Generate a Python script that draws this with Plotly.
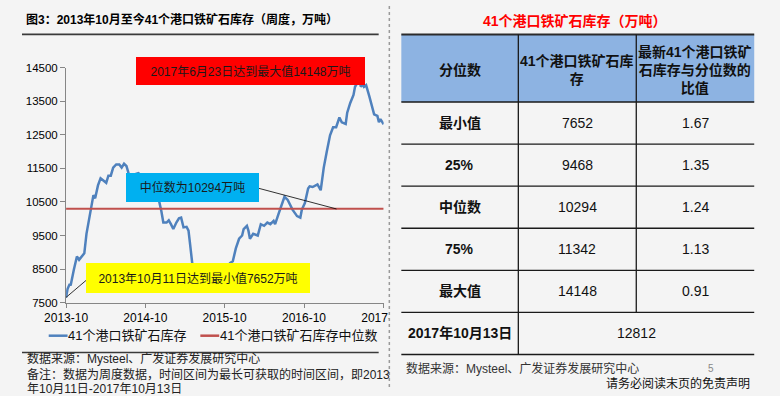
import plotly.graph_objects as go

# ---------------- data ----------------
dates = [
    "2013-10-11", "2013-10-18", "2013-10-28", "2013-11-01", "2013-11-16", "2013-11-30",
    "2013-12-10", "2013-12-22", "2014-01-03", "2014-01-13", "2014-01-23", "2014-02-03",
    "2014-02-14", "2014-02-22", "2014-03-07", "2014-03-19", "2014-04-02", "2014-04-14",
    "2014-04-24", "2014-05-05", "2014-05-16", "2014-05-30", "2014-06-13", "2014-06-24",
    "2014-07-05", "2014-07-16", "2014-07-27", "2014-08-18", "2014-09-09", "2014-10-01",
    "2014-10-19", "2014-11-05", "2014-11-22", "2014-12-14", "2014-12-24", "2015-01-02",
    "2015-01-17", "2015-01-27", "2015-02-06", "2015-02-17", "2015-03-03", "2015-03-15",
    "2015-03-25", "2015-04-05", "2015-04-19", "2015-04-28", "2015-05-05", "2015-05-15",
    "2015-06-06", "2015-06-27", "2015-07-18", "2015-08-09", "2015-08-30", "2015-09-21",
    "2015-10-13", "2015-11-06", "2015-11-18", "2015-12-02", "2015-12-17", "2015-12-31",
    "2016-01-07", "2016-01-22", "2016-01-29", "2016-02-05", "2016-02-20", "2016-03-12",
    "2016-03-26", "2016-04-10", "2016-04-25", "2016-05-09", "2016-05-24", "2016-05-31",
    "2016-06-15", "2016-06-29", "2016-07-13", "2016-07-28", "2016-08-19", "2016-09-09",
    "2016-09-24", "2016-10-01", "2016-10-15", "2016-10-30", "2016-11-06", "2016-11-20",
    "2016-12-12", "2016-12-27", "2017-01-10", "2017-01-24", "2017-02-08", "2017-02-22",
    "2017-03-08", "2017-03-23", "2017-04-03", "2017-04-21", "2017-04-28", "2017-05-12",
    "2017-05-27", "2017-06-03", "2017-06-23", "2017-06-30", "2017-07-07", "2017-07-14",
    "2017-07-24", "2017-08-08", "2017-08-23", "2017-08-30", "2017-09-14", "2017-09-21",
    "2017-09-28", "2017-10-06", "2017-10-13",
]
inventory = [
    7652, 7913, 8057, 8010, 8490, 8876,
    8779, 8876, 8972, 9550, 9934, 10416,
    10704, 10609, 10993, 11204, 11137, 11071,
    11282, 11282, 11522, 11618, 11618, 11522,
    11637, 11570, 11330, 11310, 11359, 11250,
    11100, 10950, 10750, 10511, 10222, 9887,
    9887, 9954, 9838, 9694, 9887, 10011,
    10032, 9743, 9760, 9645, 9261, 8684,
    8350, 8150, 8050, 8100, 8250, 8350,
    8500, 8684, 8733, 9117, 9405, 9501,
    9694, 9790, 9645, 9405, 9550, 9501,
    9838, 9790, 9887, 9838, 9935, 9838,
    10127, 10416, 10655, 10560, 10271, 10078,
    10031, 10271, 10465, 10898, 10964, 10944,
    11022, 10849, 11522, 12003, 12485, 12725,
    12725, 13014, 12870, 12822, 13158, 13447,
    13687, 13928, 14148, 13928, 14004, 13928,
    13976, 13640, 13254, 13110, 13062, 12870,
    12965, 12870, 12812,
]

series_names = ["41个港口铁矿石库存", "41个港口铁矿石库存中位数"]
x_tick_dates = ["2013-10-11", "2014-10-11", "2015-10-11", "2016-10-11", "2017-10-11"]
y_ticks = [7500, 8500, 9500, 10500, 11500, 12500, 13500, 14500]

table_title = "41个港口铁矿石库存（万吨）"
table_header = ["分位数", "41个港口铁矿石库<br>存", "最新41个港口铁矿<br>石库存与分位数的<br>比值"]
table_labels = ["最小值", "25%", "中位数", "75%", "最大值"]
table_inventory = [7652, 9468, 10294, 11342, 14148]
table_ratio = [1.67, 1.35, 1.24, 1.13, 0.91]
latest_label = "2017年10月13日"
latest_value = 12812

median_value = table_inventory[2]

# ---------------- helpers ----------------
W, H = 780, 396
BG = "#f4f4f4"
FONT = "Arial, 'Liberation Sans', 'Noto Sans CJK SC', sans-serif"


def px(x):
    return x / W


def py(y):
    return 1 - y / H


annotations = []
shapes = []


def text(t, x, y, size=12, color="#000", bold=False, xanchor="center", box=None, **kw):
    extra = dict(kw)
    if xanchor in ("left", "right"):
        extra.setdefault("width", box or 420)
        extra.setdefault("align", xanchor)
        extra.setdefault("borderpad", 0)
        extra.setdefault("borderwidth", 0)
    annotations.append(dict(
        text=f"<b>{t}</b>" if bold else t,
        x=px(x), y=py(y), xref="paper", yref="paper",
        xanchor=xanchor, yanchor="middle", showarrow=False,
        font=dict(size=size, color=color, family=FONT), **extra))


def hline(x0, x1, y, color="#1a1a1a", width=1.3, dash=None):
    shapes.append(dict(type="line", xref="paper", yref="paper",
                       x0=px(x0), x1=px(x1), y0=py(y), y1=py(y),
                       line=dict(color=color, width=width, dash=dash)))


def vline(x, y0, y1, color="#1a1a1a", width=1.3, dash=None):
    shapes.append(dict(type="line", xref="paper", yref="paper",
                       x0=px(x), x1=px(x), y0=py(y0), y1=py(y1),
                       line=dict(color=color, width=width, dash=dash)))


def seg(x0, y0, x1, y1, color="#000", width=0.8):
    shapes.append(dict(type="line", xref="paper", yref="paper",
                       x0=px(x0), x1=px(x1), y0=py(y0), y1=py(y1),
                       line=dict(color=color, width=width)))


def rect(x0, y0, x1, y1, fill):
    shapes.append(dict(type="rect", xref="paper", yref="paper",
                       x0=px(x0), x1=px(x1), y0=py(y1), y1=py(y0),
                       fillcolor=fill, line=dict(width=0), layer="above"))


# ---------------- traces ----------------
fig = go.Figure()
fig.add_trace(go.Scatter(x=dates, y=inventory, mode="lines", name=series_names[0],
                         line=dict(color="#4f81bd", width=2.5), showlegend=False))
fig.add_trace(go.Scatter(x=[dates[0], dates[-1]], y=[median_value, median_value], mode="lines",
                         name=series_names[1], line=dict(color="#c0504d", width=2),
                         showlegend=False))

# ---------------- left panel decorations ----------------
text("图3：2013年10月至今41个港口铁矿石库存（周度，万吨）", 4, 13.5, size=12, bold=True, xanchor="left")
hline(0, 378, 29.3, color="#3a3a3a", width=1.6)
hline(0, 378, 357.3, color="#3a3a3a", width=1.6)

# legend
seg(28.3, 340, 48.3, 340, color="#4f81bd", width=2.5)
text(series_names[0], 49, 340, size=13, color="#111", xanchor="left", box=150)
seg(189, 340, 209, 340, color="#c0504d", width=2.5)
text(series_names[1], 210, 340, size=13, color="#111", xanchor="left", box=170)

# sources
text("数据来源：Mysteel、广发证券发展研究中心", 5, 363.5, size=12, color="#222", xanchor="left")
text("备注：数据为周度数据，时间区间为最长可获取的时间区间，即2013", 5, 379.5, size=12, color="#222", xanchor="left")
text("年10月11日-2017年10月13日", 5, 395, size=12, color="#222", xanchor="left")

# callout boxes
text(f"2017年6月23日达到最大值{table_inventory[4]}万吨", 242.5, 67, size=12, color="#1a1a1a",
     bgcolor="#ff0000", width=229, height=28, borderpad=0, borderwidth=0)
text(f"中位数为{median_value}万吨", 180.5, 187.5, size=12, color="#1a1a1a",
     bgcolor="#00b0f0", width=133, height=29, borderpad=0, borderwidth=0)
text(f"2013年10月11日达到最小值{table_inventory[0]}万吨", 186, 280, size=12, color="#1a1a1a",
     bgcolor="#ffff00", width=224, height=30, borderpad=0, borderwidth=0)
seg(247, 187, 333.3, 209.3)
seg(46.7, 300.5, 71.5, 280)
seg(71.5, 280, 74, 280)

# clip the last tick label like the reference
rect(388.5, 308, 430, 334, BG)
vline(389.3, 0, 396, color="#9a9a9a", width=1.5, dash="dot")

# ---------------- right panel: table ----------------
TL, TR = 402, 776
C1, C2 = 526, 651
TOP, HB = 29.5, 99
ROW_H = 43.4
row_edges = [HB + i * ROW_H for i in range(len(table_labels) + 2)]

text(table_title, 586, 15, size=14, color="#ff0000", bold=True)
rect(TL, TOP, TR, HB, "#8db3e2")
hline(TL, TR, TOP, color="#2b2b2b", width=2)
for yy in row_edges:
    hline(TL, TR, yy)
vline(C1, TOP, row_edges[-1])
vline(C2, TOP, row_edges[-2])

col_centers = [(TL + C1) / 2, (C1 + C2) / 2, (C2 + TR) / 2]
for c, h in zip(col_centers, table_header):
    text(h, c, 65.5, size=14, color="#111", bold=True)
for i, (lab, inv, rat) in enumerate(zip(table_labels, table_inventory, table_ratio)):
    cy = (row_edges[i] + row_edges[i + 1]) / 2
    text(lab, col_centers[0], cy, size=14, color="#111", bold=True)
    text(f"{inv}", col_centers[1], cy, size=14, color="#111")
    text(f"{rat:.2f}", col_centers[2], cy, size=14, color="#111")
cy = (row_edges[-2] + row_edges[-1]) / 2
text(latest_label, col_centers[0], cy, size=14, color="#111", bold=True)
text(f"{latest_value}", (C1 + TR) / 2, cy, size=14, color="#111")

text("数据来源：Mysteel、广发证券发展研究中心", 406.5, 373.5, size=12, color="#333", xanchor="left", box=300)
text("5", 730, 373.5, size=10, color="#888")
text("请务必阅读末页的免责声明", 772, 389, size=12, color="#111", xanchor="right", box=200)

# ---------------- layout ----------------
fig.update_layout(
    width=W, height=H, margin=dict(l=0, r=0, t=0, b=0),
    paper_bgcolor=BG, plot_bgcolor=BG,
    font=dict(family=FONT, size=12, color="#000"),
    showlegend=False,
    xaxis=dict(domain=[px(46.7), px(383.3)], type="date",
               range=["2013-10-11", "2017-10-13"],
               tickvals=x_tick_dates, tickformat="%Y-%m",
               ticks="outside", ticklen=4, tickcolor="#868686",
               showline=True, linecolor="#868686", linewidth=1,
               showgrid=False, zeroline=False,
               tickfont=dict(size=12, color="#000")),
    yaxis=dict(domain=[py(306), py(63.5)], range=[7500, 14500],
               tickvals=y_ticks, tickformat="d", ticks="outside", ticklen=5,
               tickcolor="#868686",
               showline=True, linecolor="#868686", linewidth=1,
               showgrid=False, zeroline=False,
               tickfont=dict(size=11.5, color="#000")),
    shapes=shapes, annotations=annotations,
)

fig.write_html("out.html")
